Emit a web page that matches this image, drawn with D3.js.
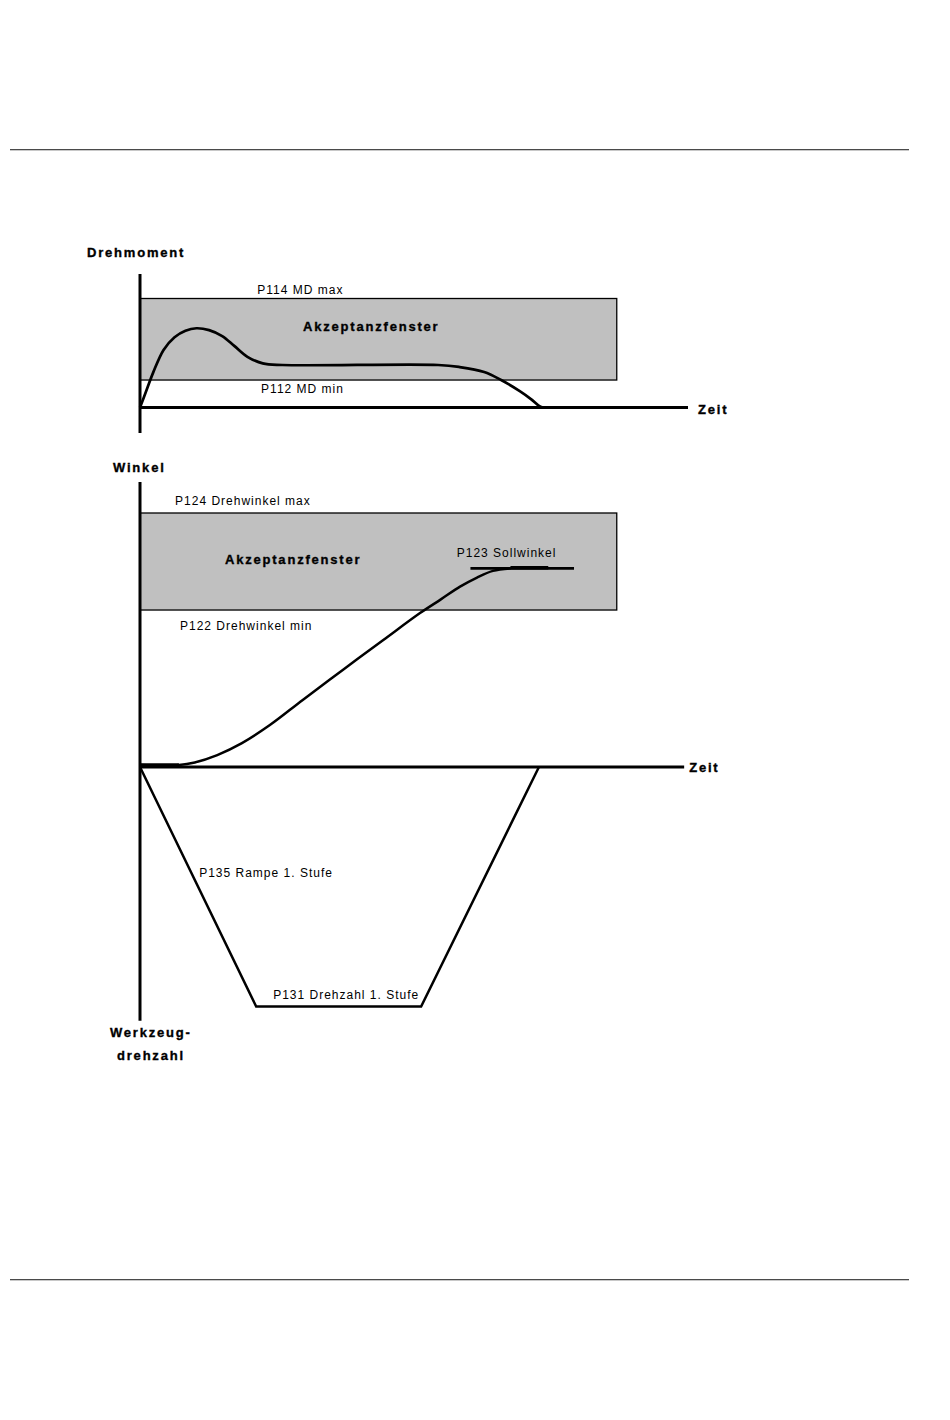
<!DOCTYPE html>
<html>
<head>
<meta charset="utf-8">
<script src="https://cdn.jsdelivr.net/npm/d3@7"></script>
<style>
  html, body { margin: 0; padding: 0; background: #fff; }
  svg { display: block; }
  .lbl { font-family: "Liberation Sans", Arial, sans-serif; font-size: 12px; letter-spacing: 1px; fill: #000; }
  .ttl { font-family: "Liberation Sans", Arial, sans-serif; font-size: 13px; font-weight: bold; letter-spacing: 1.8px; fill: #000; stroke: #000; stroke-width: 0.35px; }
</style>
</head>
<body>
<svg id="chart" width="950" height="1420"></svg>
<script>
// ---------------- DATA ----------------
// Time axis (relative units, shared by all three panels)
const timeDomain = [0, 100];

// Panel 1: Drehmoment (torque) – window P112 .. P114
const torqueWindow = { tStart: 0, tEnd: 87, min: 25.2, max: 100 };
const torqueT = [0, 1.2, 2.4, 4.3, 6.3, 8.3, 10.3, 12.6, 15.0, 17.2, 19.6, 22.4, 26.0, 54.4, 58.2, 62.8, 65.9, 69.3, 71.4, 72.9, 73.6, 75.5];
const torqueV = [0, 16, 32, 52.8, 64.5, 70.5, 72.7, 71.0, 65.5, 56.5, 46.5, 40.5, 39, 39, 37.2, 32.6, 25.2, 15.0, 7.5, 1.2, 0, 0];

// Panel 2: Winkel (angle) – window P122 .. P124, target P123
const angleWindow = { tStart: 0, tEnd: 87, min: 61.8, max: 100 };
const angleT = [0, 7.1, 10.0, 14.1, 18.6, 23.7, 29.7, 37.0, 44.4, 51.1, 54.9, 58.4, 61.5, 64.4, 67.7];
const angleV = [0.8, 0.8, 1.8, 4.7, 9.4, 16.5, 26.4, 38.2, 50.0, 60.6, 66.0, 71.0, 74.6, 77.2, 78.2];
const angleHoldT = [0, 7.1];          // thick start segment
const sollwinkel = { value: 78.2, tStart: 60.3, tEnd: 79.2, thickStart: 67.6, thickEnd: 74.5 };

// Panel 3: Werkzeugdrehzahl (tool speed, drawn downward)
const speedT = [0, 21.2, 51.3, 72.8];
const speedV = [0, 100, 100, 0];

// Texts
const torqueLabels = { title: "Drehmoment", max: "P114 MD max", min: "P112 MD min", window: "Akzeptanzfenster", axis: "Zeit" };
const angleLabels = { title: "Winkel", max: "P124 Drehwinkel max", min: "P122 Drehwinkel min", window: "Akzeptanzfenster", target: "P123 Sollwinkel", axis: "Zeit" };
const speedLabels = { title1: "Werkzeug-", title2: "drehzahl", ramp: "P135 Rampe 1. Stufe", level: "P131 Drehzahl 1. Stufe" };

// ---------------- SCALES ----------------
const svg = d3.select("#chart");
const x = d3.scaleLinear().domain(timeDomain).range([140, 688]);
const yTorque = d3.scaleLinear().domain([0, 100]).range([407.5, 298.5]);
const yAngle = d3.scaleLinear().domain([0, 100]).range([767, 513]);
const ySpeed = d3.scaleLinear().domain([0, 100]).range([767, 1006.5]);

// page rules
[149.5, 1279.5].forEach(yy => {
  svg.append("line").attr("x1", 10).attr("x2", 909).attr("y1", yy).attr("y2", yy)
    .attr("stroke", "#4a4a4a").attr("stroke-width", 1);
  svg.append("line").attr("x1", 10).attr("x2", 909).attr("y1", yy + 1).attr("y2", yy + 1)
    .attr("stroke", "#c8c8c8").attr("stroke-width", 1);
});

// ---------------- PANEL 1 ----------------
const g1 = svg.append("g");
g1.append("rect")
  .attr("x", x(torqueWindow.tStart)).attr("y", yTorque(torqueWindow.max))
  .attr("width", x(torqueWindow.tEnd) - x(torqueWindow.tStart))
  .attr("height", yTorque(torqueWindow.min) - yTorque(torqueWindow.max))
  .attr("fill", "#c0c0c0").attr("stroke", "#000").attr("stroke-width", 1.3);

// axes
g1.append("line").attr("x1", x(0)).attr("x2", x(0))
  .attr("y1", yTorque(122.5)).attr("y2", yTorque(-23.4))
  .attr("stroke", "#000").attr("stroke-width", 3);
g1.append("line").attr("x1", x(0)).attr("x2", x(100))
  .attr("y1", yTorque(0)).attr("y2", yTorque(0))
  .attr("stroke", "#000").attr("stroke-width", 3);

const torqueData = torqueT.map((t, i) => [t, torqueV[i]]);
g1.append("path").datum(torqueData)
  .attr("d", d3.line().x(d => x(d[0])).y(d => yTorque(d[1])).curve(d3.curveCatmullRom.alpha(0.5)))
  .attr("fill", "none").attr("stroke", "#000").attr("stroke-width", 2.7);

g1.append("text").attr("class", "ttl").attr("x", 87).attr("y", 257).text(torqueLabels.title);
g1.append("text").attr("class", "lbl").attr("x", x(21.4)).attr("y", yTorque(torqueWindow.max) - 5).text(torqueLabels.max);
g1.append("text").attr("class", "ttl").attr("x", x(42.2)).attr("y", yTorque(torqueWindow.max) + 32)
  .attr("text-anchor", "middle").text(torqueLabels.window);
g1.append("text").attr("class", "lbl").attr("x", x(22.1)).attr("y", yTorque(torqueWindow.min) + 13).text(torqueLabels.min);
g1.append("text").attr("class", "ttl").attr("x", x(100) + 10).attr("y", yTorque(0) + 6.5).text(torqueLabels.axis);

// ---------------- PANEL 2 ----------------
const g2 = svg.append("g");
g2.append("rect")
  .attr("x", x(angleWindow.tStart)).attr("y", yAngle(angleWindow.max))
  .attr("width", x(angleWindow.tEnd) - x(angleWindow.tStart))
  .attr("height", yAngle(angleWindow.min) - yAngle(angleWindow.max))
  .attr("fill", "#c0c0c0").attr("stroke", "#000").attr("stroke-width", 1.3);

// vertical axis shared by panels 2 and 3
g2.append("line").attr("x1", x(0)).attr("x2", x(0))
  .attr("y1", yAngle(112.2)).attr("y2", ySpeed(106))
  .attr("stroke", "#000").attr("stroke-width", 3);
g2.append("line").attr("x1", x(0)).attr("x2", x(99.3))
  .attr("y1", yAngle(0)).attr("y2", yAngle(0))
  .attr("stroke", "#000").attr("stroke-width", 3);

const angleData = angleT.map((t, i) => [t, angleV[i]]);
g2.append("path").datum(angleData)
  .attr("d", d3.line().x(d => x(d[0])).y(d => yAngle(d[1])).curve(d3.curveCatmullRom.alpha(0.5)))
  .attr("fill", "none").attr("stroke", "#000").attr("stroke-width", 2.5);
g2.append("line").attr("x1", x(angleHoldT[0])).attr("x2", x(angleHoldT[1]))
  .attr("y1", yAngle(0.8)).attr("y2", yAngle(0.8))
  .attr("stroke", "#000").attr("stroke-width", 3.5);

// Sollwinkel line
g2.append("line").attr("x1", x(sollwinkel.tStart)).attr("x2", x(sollwinkel.tEnd))
  .attr("y1", yAngle(sollwinkel.value)).attr("y2", yAngle(sollwinkel.value))
  .attr("stroke", "#000").attr("stroke-width", 2.6);
g2.append("line").attr("x1", x(sollwinkel.thickStart)).attr("x2", x(sollwinkel.thickEnd))
  .attr("y1", yAngle(sollwinkel.value) - 0.6).attr("y2", yAngle(sollwinkel.value) - 0.6)
  .attr("stroke", "#000").attr("stroke-width", 3.6);

g2.append("text").attr("class", "ttl").attr("x", 113).attr("y", 472).text(angleLabels.title);
g2.append("text").attr("class", "lbl").attr("x", x(6.4)).attr("y", yAngle(angleWindow.max) - 8).text(angleLabels.max);
g2.append("text").attr("class", "ttl").attr("x", x(15.5)).attr("y", yAngle(angleWindow.max) + 51)
  .text(angleLabels.window);
g2.append("text").attr("class", "lbl").attr("x", x(57.8)).attr("y", yAngle(sollwinkel.value) - 11).text(angleLabels.target);
g2.append("text").attr("class", "lbl").attr("x", x(7.3)).attr("y", yAngle(angleWindow.min) + 20).text(angleLabels.min);
g2.append("text").attr("class", "ttl").attr("x", x(99.3) + 5).attr("y", yAngle(0) + 4.5).text(angleLabels.axis);

// ---------------- PANEL 3 ----------------
const g3 = svg.append("g");
const speedData = speedT.map((t, i) => [t, speedV[i]]);
g3.append("path").datum(speedData)
  .attr("d", d3.line().x(d => x(d[0])).y(d => ySpeed(d[1])))
  .attr("fill", "none").attr("stroke", "#000").attr("stroke-width", 2.5).attr("stroke-linejoin", "miter");

g3.append("text").attr("class", "lbl").attr("x", x(10.8)).attr("y", ySpeed(46)).text(speedLabels.ramp);
g3.append("text").attr("class", "lbl").attr("x", x(24.3)).attr("y", ySpeed(100) - 8).text(speedLabels.level);
g3.append("text").attr("class", "ttl").attr("x", 110).attr("y", 1037).text(speedLabels.title1);
g3.append("text").attr("class", "ttl").attr("x", 117).attr("y", 1060).text(speedLabels.title2);
</script>
</body>
</html>
